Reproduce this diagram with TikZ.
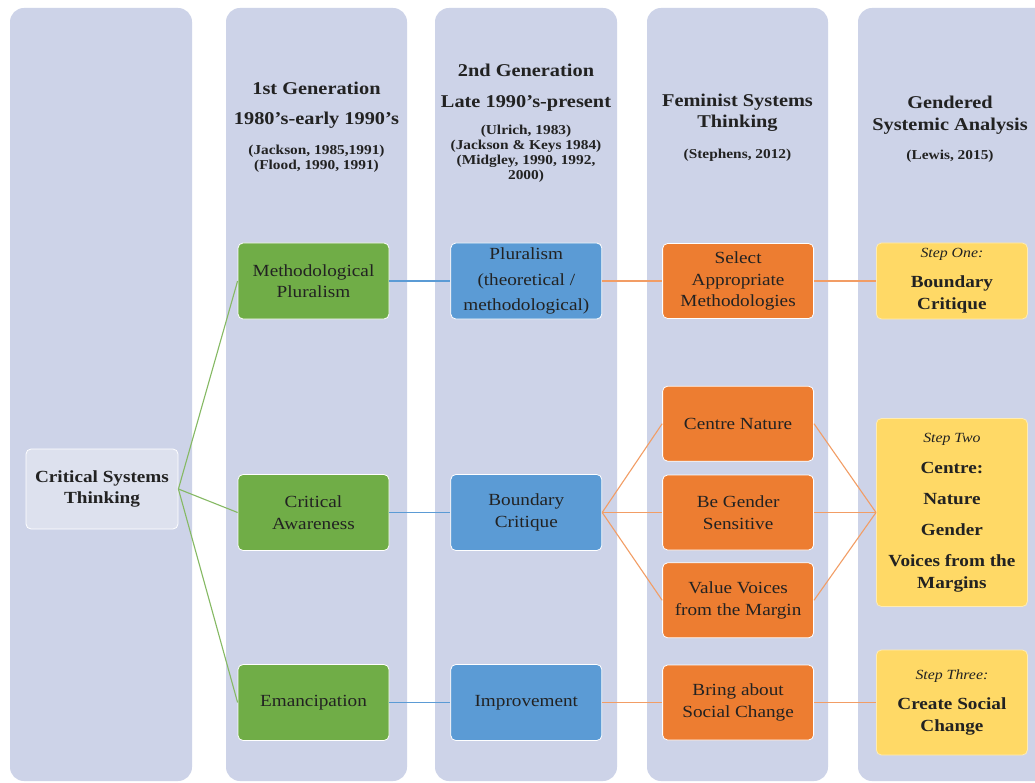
\documentclass[tikz,border=0pt]{standalone}
\usepackage{fontspec}
\setmainfont{Liberation Serif}[FakeStretch=1.13]
\usetikzlibrary{positioning}
\definecolor{CSTLane}{HTML}{CDD3E8}
\definecolor{CSTRoot}{HTML}{DDE1EE}
\definecolor{CSTGreen}{HTML}{70AD47}
\definecolor{CSTBlue}{HTML}{5B9BD5}
\definecolor{CSTOrange}{HTML}{ED7D31}
\definecolor{CSTYellow}{HTML}{FFD966}
\definecolor{CSTInk}{HTML}{222222}
\newcommand{\srcref}[1]{{\fontsize{13.6}{15}\selectfont #1}}
\newcommand{\stepname}[1]{{\mdseries\itshape\fontsize{14}{18}\selectfont #1}}
\tikzset{
  cstlane/.style={fill=CSTLane,rounded corners=14pt},
  cstbox/.style={
    draw=white,
    line width=0.8pt,
    rounded corners=5pt,
    align=center,
    minimum width=151pt,
    minimum height=76pt,
    inner sep=2pt,
    text=CSTInk,
    font=\fontsize{17}{21.5}\selectfont
  },
  cstgreen/.style={cstbox,fill=CSTGreen},
  cstblue/.style={cstbox,fill=CSTBlue},
  cstorange/.style={cstbox,fill=CSTOrange,minimum height=75pt},
  cststep/.style={cstbox,fill=CSTYellow,draw=CSTYellow!50!white,font=\fontsize{17}{22}\selectfont\bfseries},
  csthead/.style={align=center,inner sep=0pt,anchor=north,text=CSTInk,font=\fontsize{18}{20}\selectfont\bfseries},
  cstgreenlink/.style={draw=CSTGreen!85!white,line width=1.1pt},
  cstbluelink/.style={draw=CSTBlue,line width=1.1pt},
  cstorangelink/.style={draw=CSTOrange!75!white,line width=1.1pt}
}

\begin{document}
\begin{tikzpicture}[x=1pt,y=-1pt,node distance=13pt and 61pt]
  \clip (0,0) rectangle (1035,783);
  \fill[white] (0,0) rectangle (1035,783);
  \fill[cstlane] (10,8) rectangle (192,781);
  \fill[cstlane] (226,8) rectangle (407,781);
  \fill[cstlane] (435,8) rectangle (617,781);
  \fill[cstlane] (647,8) rectangle (828,781);
  \fill[cstlane] (858,8) rectangle (1052,781);

  \node[csthead] (gen1) at (316.5,82) {1st Generation\\[10pt]1980's-early 1990's\\[10pt]\srcref{(Jackson, 1985,1991)}\\[-5pt]\srcref{(Flood, 1990, 1991)}};
  \node[csthead] (gen2) at (526,64) {2nd Generation\\[11pt]Late 1990's-present\\[7pt]\srcref{(Ulrich, 1983)}\\[-5pt]\srcref{(Jackson \& Keys 1984)}\\[-5pt]\srcref{(Midgley, 1990, 1992,}\\[-5pt]\srcref{2000)}};
  \node[csthead] (fst) at (737.5,94) {Feminist Systems\\[1pt]Thinking\\[11pt]\srcref{(Stephens, 2012)}};
  \node[csthead] (gsa) at (950,96) {Gendered\\[2pt]Systemic Analysis\\[9pt]\srcref{(Lewis, 2015)}};

  \node[cstbox,fill=CSTRoot,minimum width=152pt,minimum height=80pt,font=\fontsize{17}{21}\selectfont\bfseries] (cst) at (102,489) {Critical Systems\\Thinking};

  \node[cstgreen] (methplural) at (313.5,281) {Methodological\\Pluralism};
  \node[cstgreen] (critaware) at (313.5,512.5) {Critical\\Awareness};
  \node[cstgreen] (emancip) at (313.5,702.5) {Emancipation};

  \node[cstblue,right=of methplural] (pluralism) {Pluralism\\[4pt](theoretical /\\[4pt]methodological)};
  \node[cstblue,right=of critaware] (boundary) {Boundary\\Critique};
  \node[cstblue,right=of emancip] (improve) {Improvement};

  \node[cstorange,right=60pt of pluralism] (selectmeth) {Select\\Appropriate\\Methodologies};
  \node[cstorange,right=60pt of boundary] (gendersens) {Be Gender\\Sensitive};
  \node[cstorange,above=of gendersens] (centrenat) {Centre Nature};
  \node[cstorange,below=12pt of gendersens] (voices) {Value Voices\\from the Margin};
  \node[cstorange,right=60pt of improve] (socchange) {Bring about\\Social Change};

  \node[cststep,right=62pt of selectmeth] (stepone) {\stepname{Step One:}\\[8pt]Boundary\\Critique};
  \node[cststep,right=62pt of gendersens,minimum height=188pt] (steptwo) {\stepname{Step Two}\\[9pt]Centre:\\[9pt]Nature\\[9pt]Gender\\[9pt]Voices from the\\Margins};
  \node[cststep,right=62pt of socchange,minimum height=105pt] (stepthree) {\stepname{Step Three:}\\[8pt]Create Social\\Change};

  \draw[cstgreenlink] (cst.east) -- (methplural.west);
  \draw[cstgreenlink] (cst.east) -- (critaware.west);
  \draw[cstgreenlink] (cst.east) -- (emancip.west);
  \draw[cstbluelink] (methplural) -- (pluralism);
  \draw[cstbluelink] (critaware) -- (boundary);
  \draw[cstbluelink] (emancip) -- (improve);
  \draw[cstorangelink] (pluralism) -- (selectmeth);
  \draw[cstorangelink] (boundary.east) -- (centrenat.west);
  \draw[cstorangelink] (boundary.east) -- (gendersens.west);
  \draw[cstorangelink] (boundary.east) -- (voices.west);
  \draw[cstorangelink] (improve) -- (socchange);
  \draw[cstorangelink] (selectmeth) -- (stepone);
  \draw[cstorangelink] (centrenat.east) -- (steptwo.west);
  \draw[cstorangelink] (gendersens.east) -- (steptwo.west);
  \draw[cstorangelink] (voices.east) -- (steptwo.west);
  \draw[cstorangelink] (socchange) -- (stepthree);
\end{tikzpicture}
\end{document}
